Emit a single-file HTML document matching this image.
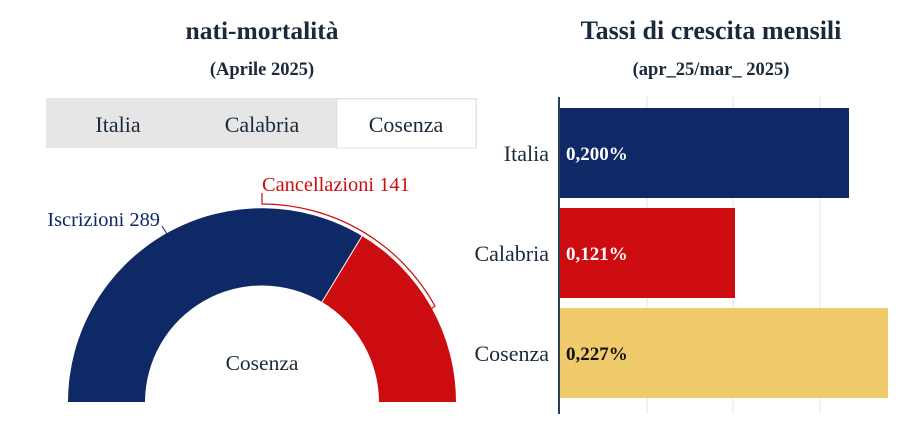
<!DOCTYPE html>
<html><head><meta charset="utf-8"><style>
body{margin:0;background:#fff;width:900px;height:416px;overflow:hidden;font-family:"Liberation Serif",serif;}
</style></head><body>
<svg width="900" height="416" viewBox="0 0 900 416" xmlns="http://www.w3.org/2000/svg" font-family="Liberation Serif, serif">
<text x="262" y="39" text-anchor="middle" font-size="25.5" font-weight="bold" fill="#1a2a3a">nati-mortalità</text>
<text x="262" y="75" text-anchor="middle" font-size="18.5" font-weight="bold" fill="#1a2a3a">(Aprile 2025)</text>
<text x="711" y="39" text-anchor="middle" font-size="26" font-weight="bold" fill="#1a2a3a">Tassi di crescita mensili</text>
<text x="711" y="75" text-anchor="middle" font-size="18.5" font-weight="bold" fill="#1a2a3a">(apr_25/mar_ 2025)</text>
<!-- tabs -->
<rect x="46" y="98" width="431" height="50" fill="#e6e6e6"/>
<rect x="337" y="99" width="139" height="49" fill="#fff" stroke="#e0e0e0"/>
<text x="118" y="132" text-anchor="middle" font-size="22" fill="#1a2a3a">Italia</text>
<text x="262" y="132" text-anchor="middle" font-size="22" fill="#1a2a3a">Calabria</text>
<text x="406" y="132" text-anchor="middle" font-size="22" fill="#1a2a3a">Cosenza</text>
<!-- donut -->
<path d="M68 402 A194 194 0 0 1 362 236 L322 302 A117 117 0 0 0 145 402 Z" fill="#0f2866"/>
<path d="M362 236 A194 194 0 0 1 456 402 L379 402 A117 117 0 0 0 322 302 Z" fill="#cd0c0f"/>
<line x1="362" y1="236" x2="322" y2="302" stroke="#fff" stroke-width="1"/>
<path d="M262 193 L262 204 A198 198 0 0 1 435 306 L431 309" fill="none" stroke="#cd0c0f" stroke-width="1.2"/>
<text x="262" y="191" font-size="20.4" fill="#cd0c0f">Cancellazioni 141</text>
<text x="160" y="226" text-anchor="end" font-size="20.4" fill="#0f2866">Iscrizioni 289</text>
<line x1="162" y1="226" x2="167" y2="234" stroke="#0f2866"/>
<text x="262" y="370" text-anchor="middle" font-size="21.5" fill="#1a2a3a">Cosenza</text>
<!-- bars -->
<g stroke="#e3e3e6" stroke-width="1">
<line x1="647" y1="97" x2="647" y2="414"/><line x1="733" y1="97" x2="733" y2="414"/><line x1="820" y1="97" x2="820" y2="414"/>
</g>
<rect x="559" y="108" width="290" height="90" fill="#0f2866"/>
<rect x="559" y="208" width="176" height="90" fill="#cd0c0f"/>
<rect x="559" y="308" width="329" height="90" fill="#efcb6b"/>
<line x1="559" y1="97" x2="559" y2="414" stroke="#2c3e55" stroke-width="2"/>
<g font-size="22" fill="#1a2a3a" text-anchor="end">
<text x="549" y="161">Italia</text><text x="549" y="261">Calabria</text><text x="549" y="361">Cosenza</text>
</g>
<g font-size="19" font-weight="bold">
<text x="566" y="160" fill="#fff">0,200%</text>
<text x="566" y="260" fill="#fff">0,121%</text>
<text x="566" y="360" fill="#111">0,227%</text>
</g>
</svg>
</body></html>
